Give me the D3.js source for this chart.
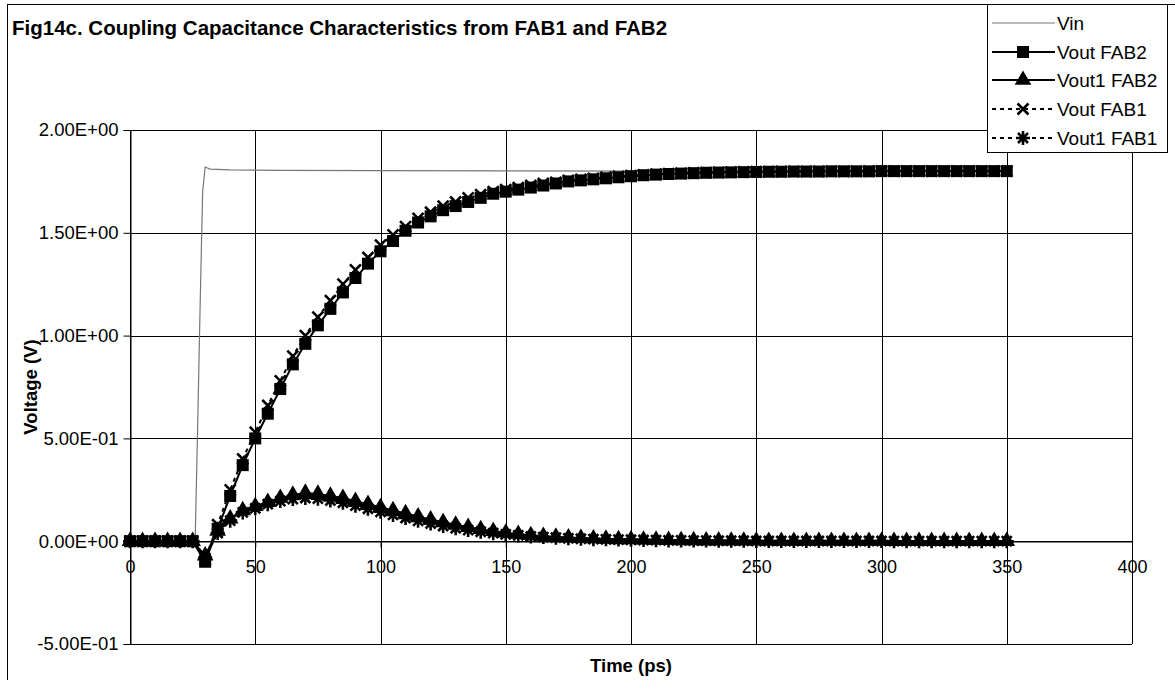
<!DOCTYPE html>
<html>
<head>
<meta charset="utf-8">
<script src="https://d3js.org/d3.v7.min.js"></script>
<style>
body { margin: 0; background: #fff; overflow: hidden; }
text { font-family: Arial, "Liberation Sans", sans-serif; fill: #000; }
</style>
</head>
<body>
<div id="chart"></div>
<script>

// time samples (ps), one marker every 5 ps
var time = [0,5,10,15,20,25,30,35,40,45,50,55,60,65,70,75,80,85,90,95,100,
  105,110,115,120,125,130,135,140,145,150,155,160,165,170,175,180,185,190,195,200,
  205,210,215,220,225,230,235,240,245,250,255,260,265,270,275,280,285,290,295,300,
  305,310,315,320,325,330,335,340,345,350];

var voutFab2 = [0,0,0,0,0,0,-0.10,0.06,0.22,0.37,0.50,0.62,0.74,0.86,0.96,1.05,1.13,1.21,1.28,1.35,1.41,
  1.46,1.51,1.55,1.58,1.61,1.63,1.65,1.67,1.69,1.70,1.71,1.72,1.73,1.74,1.75,1.755,1.76,1.765,1.77,1.775,
  1.78,1.783,1.786,1.788,1.79,1.792,1.793,1.794,1.795,1.796,1.797,1.797,1.798,1.798,1.798,1.799,1.799,1.799,1.799,1.8,
  1.8,1.8,1.8,1.8,1.8,1.8,1.8,1.8,1.8,1.8];

var vout1Fab2 = [0,0,0,0,0,0,-0.07,0.05,0.11,0.15,0.17,0.19,0.21,0.225,0.235,0.23,0.22,0.21,0.195,0.18,0.165,
  0.15,0.135,0.12,0.105,0.092,0.08,0.068,0.058,0.049,0.041,0.035,0.029,0.025,0.021,0.018,0.015,0.013,0.011,0.009,0.008,
  0.007,0.006,0.005,0.004,0.004,0.003,0.003,0.002,0.002,0.002,0.001,0.001,0.001,0.001,0.001,0.001,0.001,0.001,0.001,0.001,
  0,0,0,0,0,0,0,0,0,0];

var voutFab1 = [0,0,0,0,0,0,-0.09,0.08,0.25,0.40,0.53,0.66,0.78,0.90,1.00,1.09,1.17,1.25,1.32,1.38,1.44,
  1.49,1.53,1.57,1.60,1.63,1.65,1.67,1.685,1.70,1.71,1.72,1.73,1.74,1.745,1.755,1.76,1.765,1.77,1.774,1.778,
  1.782,1.785,1.787,1.789,1.791,1.793,1.794,1.795,1.796,1.797,1.797,1.798,1.798,1.798,1.799,1.799,1.799,1.799,1.8,1.8,
  1.8,1.8,1.8,1.8,1.8,1.8,1.8,1.8,1.8,1.8];

var vout1Fab1 = [0,0,0,0,0,0,-0.08,0.04,0.10,0.14,0.16,0.18,0.195,0.205,0.21,0.207,0.198,0.187,0.173,0.158,0.143,
  0.128,0.113,0.099,0.086,0.074,0.063,0.054,0.046,0.039,0.033,0.028,0.023,0.02,0.017,0.014,0.012,0.01,0.009,0.008,0.007,
  0.006,0.005,0.004,0.004,0.003,0.003,0.002,0.002,0.002,0.001,0.001,0.001,0.001,0.001,0.001,0.001,0.001,0.001,0.001,0.001,
  0,0,0,0,0,0,0,0,0,0];

// Vin has no markers, sampled separately
var vinTime   = [0, 26, 27, 28, 29, 30, 32, 40, 60, 100, 150, 200, 250, 300, 350];
var vinValues = [0, 0, 0.55, 1.15, 1.7, 1.82, 1.81, 1.806, 1.804, 1.802, 1.801, 1.8, 1.8, 1.8, 1.8];

var xTicks = [0, 50, 100, 150, 200, 250, 300, 350, 400];
var yTicks = [-0.5, 0, 0.5, 1, 1.5, 2];
var yTickLabels = ["-5.00E-01", "0.00E+00", "5.00E-01", "1.00E+00", "1.50E+00", "2.00E+00"];
var seriesNames = ["Vin", "Vout FAB2", "Vout1 FAB2", "Vout FAB1", "Vout1 FAB1"];

var W = 1175, H = 680;
var plot = {left: 130, right: 1132, top: 130, bottom: 644};

var svg = d3.select("#chart").append("svg")
  .attr("width", W)
  .attr("height", H);

// outer chart frame (right and bottom edges fall outside the picture)
svg.append("rect")
  .attr("x", 7.5).attr("y", 4.5)
  .attr("width", 1200).attr("height", 700)
  .attr("fill", "#fff").attr("stroke", "#000").attr("stroke-width", 1);

svg.append("text")
  .attr("x", 12).attr("y", 35)
  .style("font-size", "20.5px").style("font-weight", "bold")
  .text("Fig14c. Coupling Capacitance Characteristics from FAB1 and FAB2");

var x = d3.scaleLinear().domain([0, 400]).range([plot.left, plot.right]);
var y = d3.scaleLinear().domain([-0.5, 2]).range([plot.bottom, plot.top]);

// gridlines
svg.append("g").selectAll("line").data(yTicks).enter().append("line")
  .attr("x1", plot.left).attr("x2", plot.right)
  .attr("y1", function(d) { return Math.round(y(d)) + 0.5; })
  .attr("y2", function(d) { return Math.round(y(d)) + 0.5; })
  .attr("stroke", "#000").attr("stroke-width", 1);
svg.append("g").selectAll("line").data(xTicks).enter().append("line")
  .attr("y1", plot.top).attr("y2", plot.bottom)
  .attr("x1", function(d) { return Math.round(x(d)) + 0.5; })
  .attr("x2", function(d) { return Math.round(x(d)) + 0.5; })
  .attr("stroke", "#000").attr("stroke-width", 1);

// y axis on the left
var yAxis = svg.append("g")
  .attr("transform", "translate(" + (plot.left + 0.5) + ",0)")
  .call(d3.axisLeft(y).tickValues(yTicks).tickSize(7).tickPadding(5)
    .tickFormat(function(d, i) { return yTickLabels[i]; }));
yAxis.selectAll("text").style("font-size", "18.5px").style("font-family", "Arial, 'Liberation Sans', sans-serif");

// x axis crosses at 0 V
var xAxis = svg.append("g")
  .attr("transform", "translate(0," + (Math.round(y(0)) + 0.5) + ")")
  .call(d3.axisBottom(x).tickValues(xTicks).tickSize(6).tickPadding(13));
xAxis.selectAll("text").style("font-size", "18px").style("font-family", "Arial, 'Liberation Sans', sans-serif");
svg.selectAll(".domain").attr("stroke", "#000");

svg.append("text")
  .attr("x", (plot.left + plot.right) / 2).attr("y", 672)
  .attr("text-anchor", "middle")
  .style("font-size", "18.5px").style("font-weight", "bold")
  .text("Time (ps)");
svg.append("text")
  .attr("transform", "translate(37," + ((plot.top + plot.bottom) / 2) + ") rotate(-90)")
  .attr("text-anchor", "middle")
  .style("font-size", "18.5px").style("font-weight", "bold")
  .text("Voltage (V)");

// marker shapes
var crossPath = "M-5.5,-5.5L5.5,5.5M-5.5,5.5L5.5,-5.5";
var starPath = "M-5,-5L5,5M-5,5L5,-5M0,-7L0,7M-7,0L7,0";
var series = [
  {name: seriesNames[1], values: voutFab2, dash: null, marker: "square"},
  {name: seriesNames[2], values: vout1Fab2, dash: null, marker: "triangle"},
  {name: seriesNames[3], values: voutFab1, dash: "4,4", marker: "cross"},
  {name: seriesNames[4], values: vout1Fab1, dash: "4,4", marker: "star"}
];

function drawMarker(g, kind) {
  if (kind == "square") {
    g.append("path").attr("d", d3.symbol().type(d3.symbolSquare).size(144)).attr("fill", "#000");
  } else if (kind == "triangle") {
    g.append("path").attr("d", d3.symbol().type(d3.symbolTriangle).size(120)).attr("fill", "#000");
  } else if (kind == "cross") {
    g.append("path").attr("d", crossPath).attr("stroke", "#000").attr("stroke-width", 2.6).attr("fill", "none");
  } else {
    g.append("path").attr("d", starPath).attr("stroke", "#000").attr("stroke-width", 2.6).attr("fill", "none");
  }
}

// Vin
var vinLine = d3.line().x(function(d, i) { return x(vinTime[i]); }).y(function(d) { return y(d); });
svg.append("path")
  .datum(vinValues)
  .attr("d", vinLine)
  .attr("fill", "none").attr("stroke", "#777").attr("stroke-width", 1.2);

var line = d3.line().x(function(d, i) { return x(time[i]); }).y(function(d) { return y(d); });
series.forEach(function(s) {
  svg.append("path")
    .datum(s.values)
    .attr("d", line)
    .attr("fill", "none").attr("stroke", "#000").attr("stroke-width", 2)
    .attr("stroke-dasharray", s.dash);
  svg.append("g").selectAll("g").data(s.values).enter().append("g")
    .attr("transform", function(d, i) { return "translate(" + x(time[i]) + "," + y(d) + ")"; })
    .each(function() { drawMarker(d3.select(this), s.marker); });
});

// legend
var legend = svg.append("g");
legend.append("rect")
  .attr("x", 987.5).attr("y", 4.5).attr("width", 180).attr("height", 148)
  .attr("fill", "#fff").attr("stroke", "#000").attr("stroke-width", 1);
var legendRows = [23, 52, 80, 109, 138];
seriesNames.forEach(function(name, i) {
  var ly = legendRows[i];
  var row = legend.append("g");
  if (i == 0) {
    row.append("line").attr("x1", 992).attr("x2", 1055).attr("y1", ly).attr("y2", ly)
      .attr("stroke", "#777").attr("stroke-width", 1.2);
  } else {
    var s = series[i - 1];
    row.append("line").attr("x1", 992).attr("x2", 1055).attr("y1", ly).attr("y2", ly)
      .attr("stroke", "#000").attr("stroke-width", 2).attr("stroke-dasharray", s.dash);
    drawMarker(row.append("g").attr("transform", "translate(1023," + ly + ")"), s.marker);
  }
  row.append("text").attr("x", 1057).attr("y", ly + 7)
    .style("font-size", "19px").text(name);
});

</script>
</body>
</html>
